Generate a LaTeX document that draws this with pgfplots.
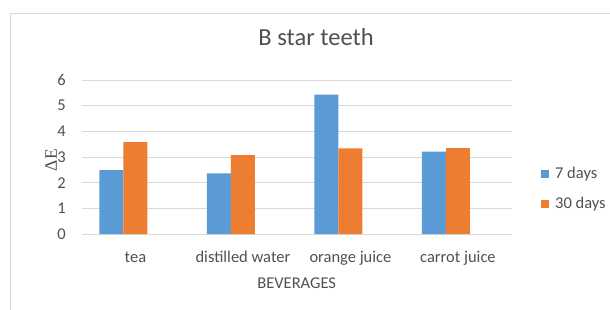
\documentclass[border=0pt]{standalone}
\usepackage{pgfplots}
\pgfplotsset{compat=1.18}
\usepackage{fontspec}
\setmainfont{Carlito}
\newfontfamily\seriffont{Liberation Serif}
\definecolor{cblue}{HTML}{5B9BD5}
\definecolor{corange}{HTML}{ED7D31}
\definecolor{txt}{HTML}{505050}
\definecolor{gridc}{HTML}{D9D9D9}
\begin{document}
\begin{tikzpicture}[x=1pt,y=1pt]
\useasboundingbox (0,-309) rectangle (610,0);
\draw[draw=gridc, line width=1pt] (10,-13) rectangle (660,-360);
\begin{axis}[
  at={(81.7pt,-234pt)}, anchor=south west,
  scale only axis, width=430pt, height=154pt,
  xmin=-0.5, xmax=3.5, ymin=0, ymax=6,
  ytick={0,1,2,3,4,5,6}, yticklabels={0,1,2,3,4,5,6}, xtick={0,1,2,3},
  xticklabels={tea,distilled water,orange juice,carrot juice},
  axis line style={draw=none}, major tick length=0pt,
  ymajorgrids, grid style={draw=gridc, line width=1pt},
  /pgf/number format/assume math mode=true,
  yticklabel style={font=\fontsize{16.5}{16.5}\selectfont, text=txt, anchor=east, inner sep=0pt, xshift=-15.7pt},
  xticklabel style={font=\fontsize{16.5}{16.5}\selectfont, text=txt, anchor=base, inner sep=0pt, yshift=-28.3pt},
  title={B star teeth},
  title style={font=\fontsize{24.5}{24.5}\selectfont, text=txt, at={(0.545,1)}, anchor=base, inner sep=0pt, yshift=29pt},
  xlabel={BEVERAGES},
  xlabel style={font=\fontsize{16.5}{16.5}\selectfont, text=txt, at={(0.5,0)}, anchor=base, inner sep=0pt, yshift=-54pt},
  ylabel={\seriffont ΔE},
  ylabel style={font=\fontsize{17.5}{17.5}\selectfont, text=txt, at={(-0.0714,0.48)}, anchor=center, inner sep=0pt},
  legend style={at={(1.068,0.295)}, anchor=west, draw=none, fill=none,
    font=\fontsize{16.5}{16.5}\selectfont, text=txt, inner sep=0pt,
    row sep=17pt, column sep=6pt, nodes={inner sep=0pt}},
  legend cell align=left,
  legend image code/.code={\fill[#1] (0pt,-4pt) rectangle (8pt,4pt);},
  bar width=24pt,
]
\addplot[ybar, bar shift=-24pt, fill=cblue, draw=none, forget plot] coordinates {(0,2.49) (1,2.36) (2,5.43) (3,3.21)};
\addplot[ybar, bar shift=0pt, fill=corange, draw=none, forget plot] coordinates {(0,3.58) (1,3.07) (2,3.34) (3,3.35)};
\addlegendimage{fill=cblue, draw=none}
\addlegendentry{7 days}
\addlegendimage{fill=corange, draw=none}
\addlegendentry{30 days}
\end{axis}
\end{tikzpicture}
\end{document}
